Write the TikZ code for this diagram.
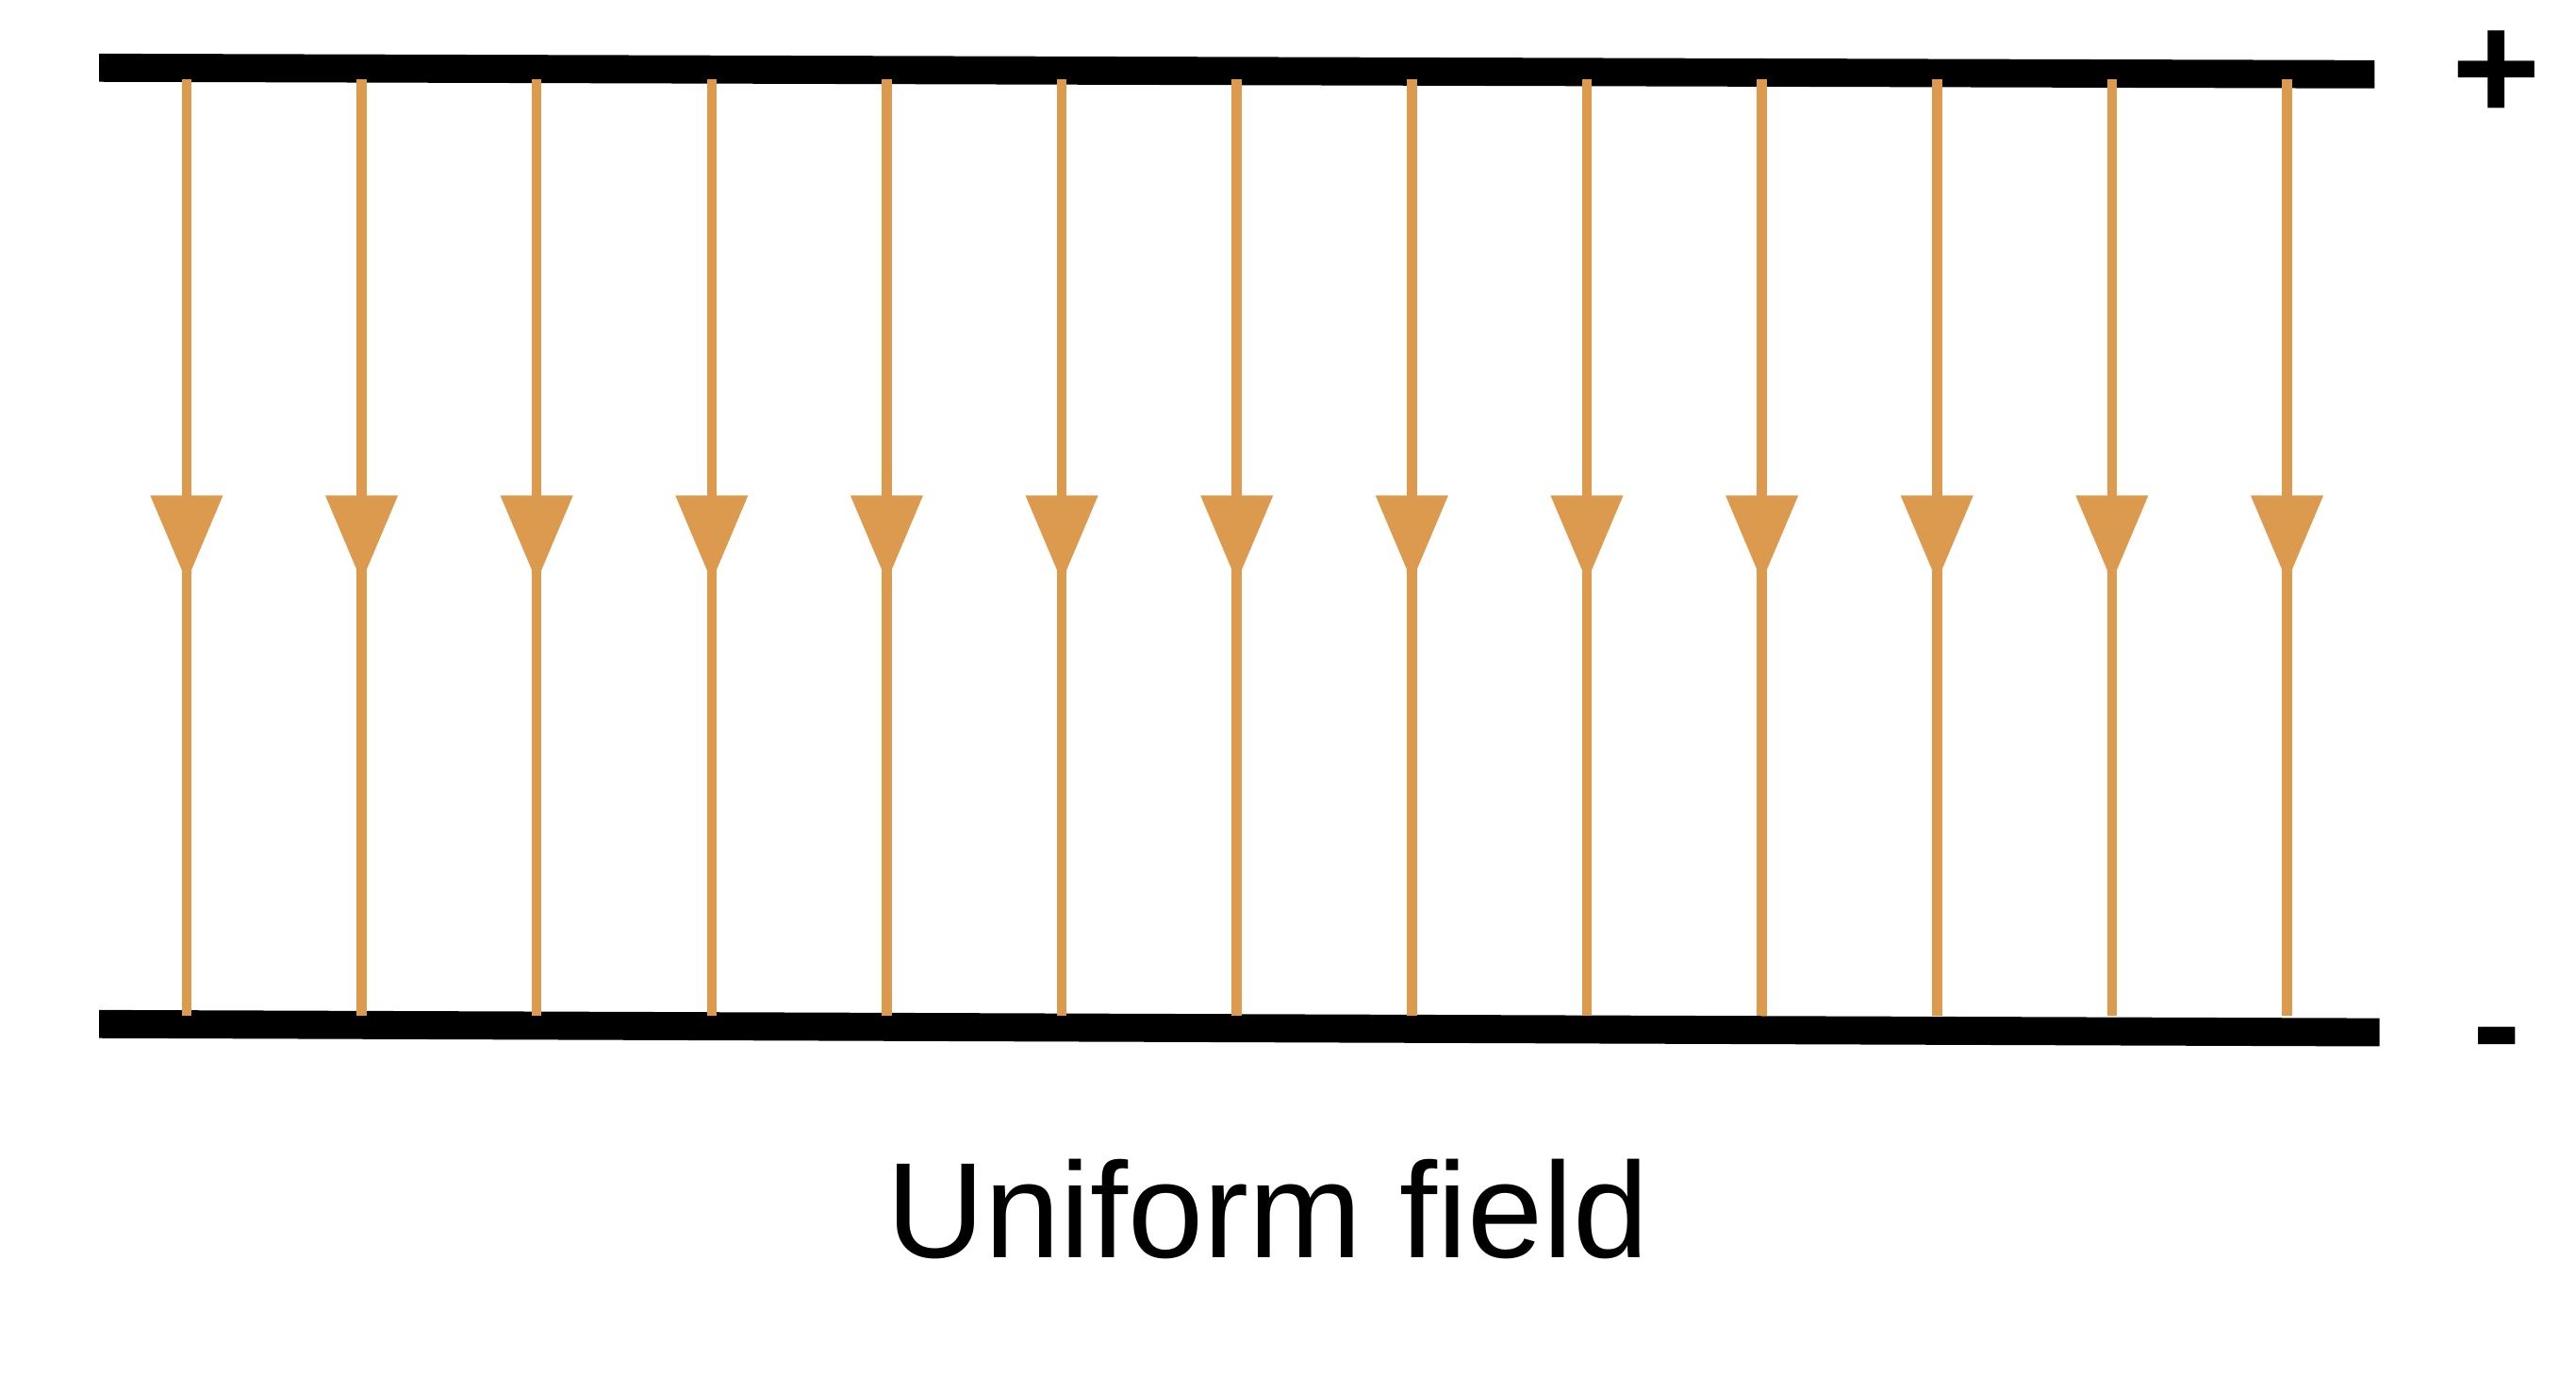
\documentclass[tikz,border=0pt]{standalone}
\usepackage{fontspec}
\setmainfont{Liberation Sans}
\definecolor{fieldc}{HTML}{DC9A4E}
\begin{document}
\begin{tikzpicture}[x=0.01751cm,y=-0.01751cm,
  plate/.style={line width=8.5pt,black},
  fline/.style={line width=3pt,fieldc},
  fhead/.style={fill=fieldc,draw=none}]
\useasboundingbox (0,0) rectangle (1560,843);
\coordinate (tl) at (60,41); \coordinate (tr) at (1438,45);
\coordinate (bl) at (60,620); \coordinate (br) at (1441,625);
\draw[plate] (tl) -- (tr);
\draw[plate] (bl) -- (br);
\foreach \i in {0,...,12}{
  \pgfmathsetmacro\xx{113+\i*106.0}
  \coordinate (s\i) at (\xx,48);
  \coordinate (e\i) at (\xx,615);
  \draw[fline] (s\i) -- (e\i);
  \fill[fhead] (\xx-22,300) -- (\xx+22,300) -- (\xx,352) -- cycle;
}
\node[font=\fontsize{46}{50}\selectfont] (plus) at (1512,46) {\textbf{+}};
\node[font=\fontsize{44}{50}\selectfont] (minus) at (1512,636) {\textbf{-}};
\node[font=\fontsize{41}{48}\selectfont] (lbl) at (768,732) {Uniform field};
\end{tikzpicture}
\end{document}
